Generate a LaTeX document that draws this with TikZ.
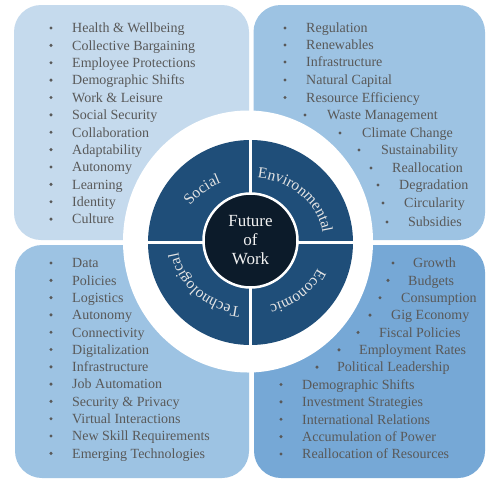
\documentclass[tikz,border=0pt]{standalone}
\usepackage{fontspec}
\setmainfont{Liberation Serif}
\usetikzlibrary{decorations.text,calc}
\definecolor{boxTL}{RGB}{197,218,237}
\definecolor{boxTR}{RGB}{157,195,227}
\definecolor{boxBL}{RGB}{157,195,227}
\definecolor{boxBR}{RGB}{118,168,214}
\definecolor{ringblue}{RGB}{31,78,121}
\definecolor{hubdark}{RGB}{12,27,42}
\definecolor{itemgray}{RGB}{89,89,89}
\definecolor{labelgray}{RGB}{228,228,228}
\tikzset{
  quadbox/.style={rounded corners=27pt},
  item/.style={anchor=base west, inner sep=0pt, text=itemgray, font=\fontsize{14}{14}\selectfont},
  bulletdot/.style={fill=itemgray},
}
\newcommand\ArcLbl[3]{%
  \path[decorate, decoration={text along path, text align=center, text color=labelgray,
      text={|\fontsize{15.5}{15.5}\selectfont|#3}}]
    (C) ++(#1:73pt and 65pt) arc[start angle=#1, end angle=#2, x radius=73pt, y radius=65pt];
}
\begin{document}
\begin{tikzpicture}[x=1pt,y=1pt]
\useasboundingbox (0,0) rectangle (486,-479);
\fill[white] (0,0) rectangle (486,-479);
% quadrant boxes
\fill[boxTL, quadbox] (14,-5) rectangle (249,-240);
\fill[boxTR, quadbox] (253.5,-5) rectangle (485,-240);
\fill[boxBL, quadbox] (15,-245) rectangle (249,-478);
\fill[boxBR, quadbox] (254,-245) rectangle (485,-478);
% white halo
\fill[white] (248,-241.5) ellipse [x radius=125, y radius=131];
% dark ring
\coordinate (C) at (250.5,-242.5);
\fill[ringblue] (C) circle[radius=102.5];
\draw[white, line width=3.5] ($(C)+(0,104)$) -- ($(C)+(0,-104)$);
\draw[white, line width=3] ($(C)+(-104,0)$) -- ($(C)+(104,0)$);
% hub
\node[circle, fill=hubdark, draw=white, line width=2.5pt, minimum size=94pt, inner sep=0pt,
  text={rgb,255:red,242;green,242;blue,242}, align=center, font=\fontsize{17}{19}\selectfont]
  (hub) at (250.5,-240.5) {Future\\of\\Work};
% ring labels
\ArcLbl{176}{86}{Social}
\ArcLbl{91}{1}{Environmental}
\ArcLbl{357}{267}{Economic}
\ArcLbl{270}{180}{Technological}
% top-left list
\foreach \t [count=\i] in {Health \& Wellbeing, Collective Bargaining, Employee Protections,
  Demographic Shifts, Work \& Leisure, Social Security, Collaboration, Adaptability,
  Autonomy, Learning, Identity, Culture}{
  \fill[bulletdot] (51,{-(28+(\i-1)*17.37)}) circle[radius=1.7];
  \node[item] (tl\i) at (72,{-(28+(\i-1)*17.37)-4.8}) {\t};
}
% bottom-left list
\foreach \t [count=\i] in {Data, Policies, Logistics, Autonomy, Connectivity, Digitalization,
  Infrastructure, Job Automation, Security \& Privacy, Virtual Interactions,
  New Skill Requirements, Emerging Technologies}{
  \fill[bulletdot] (51,{-(263+(\i-1)*17.3)}) circle[radius=1.7];
  \node[item] (bl\i) at (72,{-(263+(\i-1)*17.3)-4.8}) {\t};
}
% top-right list
\foreach \bx/\tx/\y/\t [count=\i] in {285/306/28/Regulation, 285/306/45/Renewables,
  285/306/62/Infrastructure, 285/306/80/Natural Capital, 285/306/97.5/Resource Efficiency,
  305/327/115/Waste Management, 340/362/133/Climate Change, 359/381/150/Sustainability,
  371/392/168/Reallocation, 378/399/185/Degradation, 383/404/203/Circularity,
  387/408/222/Subsidies}{
  \fill[bulletdot] (\bx,-\y) circle[radius=1.7];
  \node[item] (tr\i) at (\tx,{-\y-4.8}) {\t};
}
% bottom-right list
\foreach \bx/\tx/\t [count=\i] in {393/413/Growth, 388/408/Budgets, 380/401/Consumption,
  370/391/Gig Economy, 358/379/Fiscal Policies, 339/359/Employment Rates,
  317/337/Political Leadership, 281/302/Demographic Shifts, 281/302/Investment Strategies,
  281/302/International Relations, 281/302/Accumulation of Power,
  281/302/Reallocation of Resources}{
  \fill[bulletdot] (\bx,{-(263+(\i-1)*17.36)}) circle[radius=1.7];
  \node[item] (br\i) at (\tx,{-(263+(\i-1)*17.36)-4.8}) {\t};
}
\end{tikzpicture}
\end{document}
